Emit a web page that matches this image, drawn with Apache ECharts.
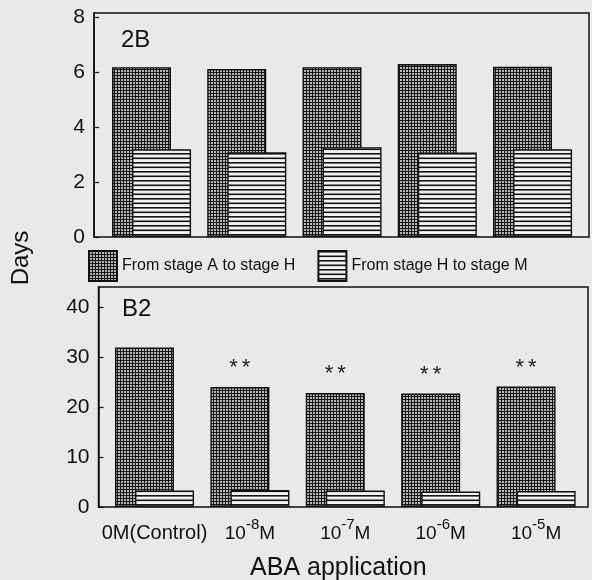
<!DOCTYPE html>
<html>
<head>
<meta charset="utf-8">
<script src="https://cdn.jsdelivr.net/npm/echarts@6/dist/echarts.min.js"></script>
<style>
  html, body { margin: 0; padding: 0; background: #e9e9e9; }
  #chart { width: 592px; height: 580px; }
</style>
</head>
<body>
<div id="chart"></div>
<script>
// ABA concentrations on the x axis ("^" marks the exponent)
const categories = ['0M(Control)', '10^-8M', '10^-7M', '10^-6M', '10^-5M'];

// Panel 2B: days per development phase
const top_AtoH = [6.18, 6.11, 6.18, 6.29, 6.19];
const top_HtoM = [3.19, 3.08, 3.27, 3.07, 3.19];

// Panel B2: days per development phase
const bot_AtoH = [31.9, 24.0, 22.8, 22.7, 24.1];
const bot_HtoM = [3.3, 3.4, 3.3, 3.1, 3.2];
const bot_marks = ['', '**', '**', '**', '**'];

const seriesNames = ['From stage A to stage H', 'From stage H to stage M'];
const panelNames = ['2B', 'B2'];
const axisTitleX = 'ABA application';
const axisTitleY = 'Days';

const FONT = '"Liberation Sans", Arial, sans-serif';
const INK = '#111';

// Fill patterns: fine dark dot screen and horizontal hatching
function dotPattern() {
  const c = document.createElement('canvas');
  c.width = 3; c.height = 3;
  const g = c.getContext('2d');
  g.fillStyle = '#161616'; g.fillRect(0, 0, 3, 3);
  g.fillStyle = '#b8b8b8'; g.fillRect(1, 1, 2, 2);
  return { image: c, repeat: 'repeat' };
}
function stripePattern() {
  const c = document.createElement('canvas');
  c.width = 4; c.height = 9;
  const g = c.getContext('2d');
  g.fillStyle = '#f3f3f3'; g.fillRect(0, 0, 4, 9);
  g.fillStyle = '#141414';
  g.fillRect(0, 0, 4, 1.6);
  g.fillRect(0, 4.5, 4, 1.6);
  return { image: c, repeat: 'repeat' };
}
const dots = dotPattern();
const stripes = stripePattern();

const topMax = 8.15, botMax = 44;

const chart = echarts.init(document.getElementById('chart'), null, { renderer: 'canvas' });

function barStyle(fill) {
  return { color: fill, borderColor: INK, borderWidth: 1.4 };
}

const yLabel = { fontFamily: FONT, fontSize: 21, color: INK, margin: 9, showMaxLabel: false };
const gridBase = { containLabel: false, outerBoundsMode: 'none' };

const option = {
  backgroundColor: '#e9e9e9',
  animation: false,
  textStyle: { fontFamily: FONT, color: INK },
  grid: [
    // frames with y axes
    Object.assign({ left: 94, right: 3, top: 13, height: 224, show: true, borderColor: INK, borderWidth: 1.5, backgroundColor: 'transparent' }, gridBase),
    Object.assign({ left: 98.5, right: 4, top: 287, height: 220, show: true, borderColor: INK, borderWidth: 1.5, backgroundColor: 'transparent' }, gridBase),
    // bar bands
    Object.assign({ left: 103.9, width: 476.25, top: 13, height: 224 }, gridBase),
    Object.assign({ left: 106.8, width: 477, top: 287, height: 220 }, gridBase)
  ],
  title: [
    { text: panelNames[0], left: 116, top: 23, textStyle: { fontFamily: FONT, fontSize: 24, fontWeight: 'normal', color: INK } },
    { text: panelNames[1], left: 117, top: 292, textStyle: { fontFamily: FONT, fontSize: 24, fontWeight: 'normal', color: INK } }
  ],
  legend: {
    data: seriesNames,
    left: 83, top: 245,
    itemWidth: 28, itemHeight: 30, itemGap: 22,
    icon: 'rect',
    textStyle: { fontFamily: FONT, fontSize: 16, color: INK }
  },
  xAxis: [
    { gridIndex: 0, type: 'category', data: [''], show: false },
    { gridIndex: 1, type: 'category', data: [''], show: false },
    { gridIndex: 2, type: 'category', data: categories, axisLine: { show: false }, axisTick: { show: false }, axisLabel: { show: false } },
    {
      gridIndex: 3, type: 'category', data: categories,
      axisLine: { show: false }, axisTick: { show: false },
      axisLabel: {
        interval: 0,
        margin: 10,
        formatter: function (v) {
          const m = v.match(/^10\^(-\d+)M$/);
          if (m) return '{b|10}{s|' + m[1] + '}{b|M}';
          return '{c|' + v + '}';
        },
        rich: {
          b: { fontFamily: FONT, fontSize: 19, lineHeight: 26, verticalAlign: 'bottom', color: INK },
          s: { fontFamily: FONT, fontSize: 15, lineHeight: 15, verticalAlign: 'top', color: INK },
          c: { fontFamily: FONT, fontSize: 20, lineHeight: 26, verticalAlign: 'bottom', color: INK }
        }
      },
      name: axisTitleX, nameLocation: 'middle', nameGap: 49,
      nameTextStyle: { fontFamily: FONT, fontSize: 25, color: INK, padding: [0, 14, 0, 0] }
    }
  ],
  yAxis: [
    {
      gridIndex: 0, type: 'value', min: 0, max: topMax, interval: 2,
      axisLine: { show: true, lineStyle: { color: INK, width: 1.5 } },
      axisTick: { show: true, inside: true, length: 5, lineStyle: { color: INK, width: 1.2 } },
      axisLabel: yLabel,
      splitLine: { show: false }
    },
    {
      gridIndex: 1, type: 'value', min: 0, max: botMax, interval: 10,
      axisLine: { show: true, lineStyle: { color: INK, width: 1.5 } },
      axisTick: { show: true, inside: true, length: 5, lineStyle: { color: INK, width: 1.2 } },
      axisLabel: yLabel,
      splitLine: { show: false }
    },
    { gridIndex: 2, type: 'value', min: 0, max: topMax, show: false, splitLine: { show: false } },
    { gridIndex: 3, type: 'value', min: 0, max: botMax, show: false, splitLine: { show: false } }
  ],
  graphic: [
    {
      type: 'text', x: 21, y: 258, rotation: Math.PI / 2,
      style: { text: axisTitleY, fontFamily: FONT, fontSize: 24, fill: INK, align: 'center', verticalAlign: 'middle' }
    }
  ],
  series: [
    {
      name: seriesNames[0], type: 'bar', xAxisIndex: 2, yAxisIndex: 2,
      data: top_AtoH, barWidth: 59, barGap: '-66%',
      itemStyle: barStyle(dots)
    },
    {
      name: seriesNames[1], type: 'bar', xAxisIndex: 2, yAxisIndex: 2,
      data: top_HtoM, barWidth: 59, barGap: '-66%',
      itemStyle: barStyle(stripes)
    },
    {
      name: seriesNames[0], type: 'bar', xAxisIndex: 3, yAxisIndex: 3,
      data: bot_AtoH, barWidth: 59, barGap: '-66%',
      itemStyle: barStyle(dots),
      label: {
        show: true, position: 'top', distance: 8,
        formatter: function (p) {
          const s = bot_marks[p.dataIndex];
          return s ? s.split('').map(ch => '{k|' + ch + '}').join('') : '';
        },
        rich: { k: { fontFamily: FONT, fontSize: 22, color: '#222', padding: [0, 2] } }
      }
    },
    {
      name: seriesNames[1], type: 'bar', xAxisIndex: 3, yAxisIndex: 3,
      data: bot_HtoM, barWidth: 59, barGap: '-66%',
      itemStyle: barStyle(stripes)
    }
  ]
};

chart.setOption(option);
</script>
</body>
</html>
